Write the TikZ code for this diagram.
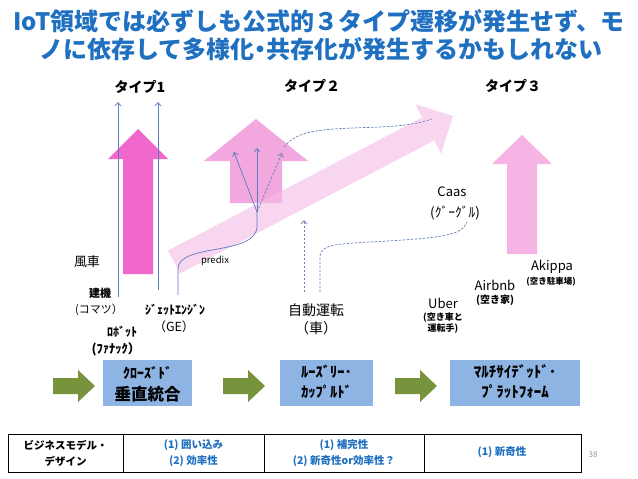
\documentclass[tikz,border=0pt]{standalone}
\usepackage{fontspec}
\setmainfont{Noto Sans CJK JP}
\usetikzlibrary{arrows.meta}
\definecolor{titleblue}{RGB}{31,112,192}
\definecolor{pinkA}{RGB}{240,104,204}
\definecolor{pinkB}{RGB}{242,168,222}
\definecolor{pinkC}{RGB}{245,180,227}
\definecolor{pinkD}{RGB}{246,188,230}
\definecolor{lineblue}{RGB}{92,122,190}
\definecolor{dashblue}{RGB}{100,130,180}
\definecolor{boxblue}{RGB}{142,180,227}
\definecolor{olivegreen}{RGB}{119,147,60}
\definecolor{pagegray}{RGB}{150,150,150}
\newcommand\fsz[2]{\fontsize{#1}{#2}\selectfont}
\tikzset{
  txt/.style={inner sep=0pt, align=center},
  ttl/.style={txt, text=titleblue, font=\fsz{24}{28}\bfseries},
  typelbl/.style={txt, font=\fsz{14}{16}\bfseries},
  lbl/.style={txt, font=\fsz{13}{16}},
  slbl/.style={txt, font=\fsz{11}{13}\bfseries},
  tbl/.style={txt, font=\fsz{10.5}{16}\bfseries},
  tblb/.style={tbl, text=titleblue},
  ln/.style={draw=lineblue, line width=0.7pt},
  dln/.style={draw=dashblue, line width=0.7pt, dash pattern=on 2.5pt off 1.5pt},
  arr/.style={-{Straight Barb[length=3.5pt,width=6pt]}},
  greenarrow/.style={fill=olivegreen},
}
\begin{document}
\begin{tikzpicture}[x=1pt,y=-1pt]
\useasboundingbox (0,0) rectangle (638,479);
\fill[white] (0,0) rectangle (638,479);

% title
\node[ttl] (title1) at (319,21) {IoT領域では必ずしも公式的３タイプ遷移が発生せず、モ};
\node[ttl] (title2) at (321,49) {ノに依存して多様化\kern-6pt・\kern-6pt共存化が発生するかもしれない};

% type labels
\node[typelbl] (ty1) at (140,87) {タイプ1};
\node[typelbl] (ty2) at (312,86) {タイプ２};
\node[typelbl] (ty3) at (513,86) {タイプ３};

% type arrows
\fill[pinkA] (123,274) -- (123,159) -- (108,159) -- (138,129) -- (168,159) -- (153,159) -- (153,274) -- cycle;
\fill[pinkB] (230,203) -- (230,161) -- (204,161) -- (256,119) -- (308,161) -- (282,161) -- (282,203) -- cycle;
\fill[pinkC] (507,254) -- (507,164) -- (492,164) -- (522,135) -- (552,164) -- (537,164) -- (537,254) -- cycle;

% diagonal band arrow
\fill[pinkD, fill opacity=0.6] (168,250.5) -- (422.2,117.5) -- (415.2,104.2) -- (453,116) -- (441.2,153.8) -- (434.2,140.5) -- (180,273.5) -- cycle;

% type 1 lines
\coordinate (l1s) at (118,297); \coordinate (l1e) at (118,102);
\coordinate (l2s) at (158,290); \coordinate (l2e) at (158,102);
\draw[ln,arr] (l1s) -- (l1e);
\draw[ln,arr] (l2s) -- (l2e);

% predix line and fork
\coordinate (ps) at (178,295);
\coordinate (fork) at (257,212);
\coordinate (f1) at (234,152);
\coordinate (f2) at (257,148);
\coordinate (f3) at (282,153);
\draw[ln] (ps) -- (178,268) .. controls (180,243) and (257,256) .. (257,226) -- (fork);
\draw[ln,arr] (fork) -- (f1);
\draw[ln,arr] (fork) -- (f2);
\draw[dln,arr] (fork) -- (f3);
\coordinate (c1s) at (284,147);
\coordinate (c1e) at (432,119);
\draw[dln] (c1s) .. controls (298,128) and (330,129) .. (380,127) .. controls (405,126) and (420,123) .. (c1e);

% dotted arrow and second dashed curve
\coordinate (d1s) at (304,292); \coordinate (d1e) at (304,220);
\draw[dln,arr] (d1s) -- (d1e);
\coordinate (c2s) at (320,292); \coordinate (c2e) at (467,222);
\draw[dln] (c2s) -- (320,256) .. controls (321,245) and (335,244) .. (370,242) .. controls (440,238) and (462,236) .. (c2e);

% labels
\node[txt, font=\fsz{9.5}{11}] (predix) at (215,261) {predix};
\node[lbl] (fusha) at (87,262) {風車};
\node[slbl] (kenki) at (100,293) {建機};
\node[txt, font=\fsz{11}{13}] (komatsu) at (99,310) {(コマツ）};
\node[slbl, font=\fsz{12}{14}\bfseries] (jet) at (175,310) {ｼﾞｪｯﾄｴﾝｼﾞﾝ};
\node[txt, font=\fsz{12.5}{14}] (ge) at (174,327) {（GE）};
\node[slbl, font=\fsz{12}{14}\bfseries] (robot) at (122,332) {ﾛﾎﾞｯﾄ};
\node[slbl, font=\fsz{12.5}{14}\bfseries] (fanuc) at (116,349) {(ﾌｧﾅｯｸ）};
\node[txt, font=\fsz{14}{16}] (jido) at (316,310) {自動運転};
\node[txt, font=\fsz{14}{16}] (kuruma) at (316,328) {（車）};
\node[lbl] (caas) at (452,192) {Caas};
\node[txt, font=\fsz{13.5}{16}] (google) at (455,213) {(ｸﾞｰｸﾞﾙ)};
\node[lbl] (akippa) at (552,267) {Akippa};
\node[txt, font=\fsz{8.5}{10}\bfseries] (akippa2) at (551,282) {(空き駐車場)};
\node[lbl] (airbnb) at (495,285) {Airbnb};
\node[txt, font=\fsz{10}{12}\bfseries] (airbnb2) at (495,300) {(空き家)};
\node[lbl] (uber) at (443,303) {Uber};
\node[txt, font=\fsz{9}{11}\bfseries] (uber2) at (443,323.5) {(空き車と\\運転手)};

% bottom flow
\fill[greenarrow] (53,378) -- (78,378) -- (78,370) -- (95,386) -- (78,402) -- (78,394) -- (53,394) -- cycle;
\fill[greenarrow] (223,378) -- (248,378) -- (248,370) -- (265,386) -- (248,402) -- (248,394) -- (223,394) -- cycle;
\fill[greenarrow] (395,378) -- (420,378) -- (420,370) -- (437,386) -- (420,402) -- (420,394) -- (395,394) -- cycle;

\fill[boxblue] (103,360) rectangle (192,406);
\fill[boxblue] (280,360) rectangle (373,406);
\fill[boxblue] (450,360) rectangle (580,406);
\node[txt, font=\fsz{14}{16}\bfseries] (b1a) at (147.5,373) {ｸﾛｰｽﾞﾄﾞ};
\node[txt, font=\fsz{16.5}{18}\bfseries] (b1b) at (147.5,394) {垂直統合};
\node[txt, font=\fsz{14.5}{16}\bfseries] (b2a) at (326.5,372) {ﾙｰｽﾞﾘｰ･};
\node[txt, font=\fsz{14.5}{16}\bfseries] (b2b) at (326.5,392) {ｶｯﾌﾟﾙﾄﾞ};
\node[txt, font=\fsz{15}{16}\bfseries] (b3a) at (515,372) {ﾏﾙﾁｻｲﾃﾞｯﾄﾞ･};
\node[txt, font=\fsz{15}{16}\bfseries] (b3b) at (515,392) {ﾌﾟﾗｯﾄﾌｫｰﾑ};

% table
\draw[line width=0.9pt] (8,434) rectangle (581,472);
\draw[line width=0.9pt] (123,434) -- (123,472);
\draw[line width=0.9pt] (264,434) -- (264,472);
\draw[line width=0.9pt] (424,434) -- (424,472);
\node[tbl] (c1) at (65.5,453) {ビジネスモデル・\\デザイン};
\node[tblb] (c2) at (193.5,453) {(1) 囲い込み\\(2) 効率性};
\node[tblb] (c3) at (344,453) {(1) 補完性\\(2) 新奇性or効率性？};
\node[tblb] (c4) at (502,452) {(1) 新奇性};
\node[txt, text=pagegray, font=\fsz{8}{10}] (page) at (593,455) {38};
\end{tikzpicture}
\end{document}
